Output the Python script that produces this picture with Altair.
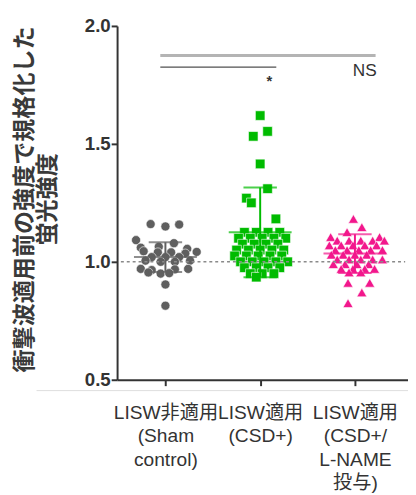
import json
import altair as alt
import pandas as pd

# ---------------- data ----------------
categories = [1, 2, 3]
group_names = ["Sham", "CSD+", "CSD+/L-NAME"]
cat_labels = [
    ["LISW非適用", "(Sham", "control)"],
    ["LISW適用", "(CSD+)"],
    ["LISW適用", "(CSD+/", "L-NAME", "投与)"],
]
y_title = ["衝撃波適用前の強度で規格化した", "蛍光強度"]
y_ticks = [0.5, 1.0, 1.5, 2.0]

# group 1: Sham (circles) — value and horizontal jitter (category units)
sham_values = [1.16, 1.15, 1.158, 1.092, 1.079, 1.064, 1.06, 1.055,
               1.045, 1.04, 1.04, 1.035, 1.042, 1.02, 1.02, 1.02,
               1.005, 1.0, 1.0, 1.005, 0.97, 0.965, 0.968, 0.97,
               0.955, 0.95, 0.952, 0.904, 0.814]
sham_jitter = [-0.156, 0.0, 0.145, -0.31, 0.09, -0.07, -0.26, 0.23,
               -0.23, -0.08, 0.06, 0.21, 0.33, -0.145, 0.0, 0.145,
               -0.21, -0.05, 0.10, 0.26, -0.26, -0.145, 0.10, 0.24,
               -0.18, -0.05, 0.04, 0.0, 0.0]

# group 2: CSD+ (squares)
csd_values = [1.62, 1.553, 1.532, 1.415, 1.31, 1.27, 1.25, 1.182,
              1.125, 1.125, 1.125, 1.125,
              1.10, 1.10, 1.10, 1.10, 1.10,
              1.075, 1.075, 1.075, 1.075,
              1.05, 1.05, 1.05, 1.05, 1.05,
              1.025, 1.025, 1.025, 1.025, 1.025,
              1.0, 1.0, 1.0, 1.0, 1.0,
              0.975, 0.975, 0.975, 0.975,
              0.95, 0.95, 0.95, 0.935]
csd_jitter = [0.0, 0.078, -0.073, 0.0, 0.078, -0.145, -0.093, 0.166,
              -0.166, -0.041, 0.083, 0.207,
              -0.228, -0.104, 0.021, 0.145, 0.27,
              -0.187, -0.062, 0.062, 0.187,
              -0.249, -0.124, 0.0, 0.124, 0.249,
              -0.27, -0.145, -0.021, 0.104, 0.228,
              -0.207, -0.083, 0.041, 0.166, 0.29,
              -0.166, -0.041, 0.083, 0.207,
              -0.104, 0.021, 0.145, -0.041]

# group 3: CSD+/L-NAME (triangles)
lname_values = [1.182, 1.147, 1.126, 1.105, 1.105,
                1.09, 1.09, 1.09, 1.09, 1.09,
                1.07, 1.07, 1.07, 1.07, 1.07,
                1.05, 1.05, 1.05, 1.05, 1.05,
                1.03, 1.03, 1.03, 1.03,
                1.01, 1.01, 1.01, 1.01, 1.01,
                0.99, 0.99, 0.99, 0.99,
                0.97, 0.97, 0.97, 0.97,
                0.955, 0.955, 0.911, 0.911, 0.87, 0.825]
lname_jitter = [-0.016, 0.073, -0.083, -0.256, 0.26,
                -0.187, -0.062, 0.062, 0.187, 0.311,
                -0.27, -0.145, -0.021, 0.104, 0.228,
                -0.207, -0.083, 0.041, 0.166, 0.29,
                -0.249, -0.124, 0.0, 0.124,
                -0.187, -0.062, 0.062, 0.187, 0.29,
                -0.228, -0.104, 0.021, 0.145,
                -0.145, -0.021, 0.104, 0.207,
                -0.062, 0.062, -0.073, 0.156, 0.073, -0.073]

means = [1.02, 1.125, 1.035]
sds = [0.063, 0.19, 0.082]

reference_value = [1.0]
reference_span = [0.53, 3.53]

# significance brackets
bracket_x = [0.946, 0.946]
bracket_x2 = [3.218, 2.17]
bracket_y = [1.875, 1.825]
bracket_kind = ["NS", "star"]
star_text = ["*"]
star_x = [2.098]
star_y = [1.745]
ns_text = ["NS"]
ns_x = [3.104]
ns_y = [1.7875]

baseline_x = [-0.36]
baseline_x2 = [3.56]
baseline_y = [0.454]

# ---------------- styles ----------------
colors = ["#5f5f5f", "#00bb00", "#f2178c"]
shapes = ["circle", "square", "triangle-up"]
sizes = [85, 105, 90]
FONT = "Liberation Sans, Arial, Noto Sans CJK JP"
TXT = "#333333"

# ---------------- tables ----------------
rows = []
for name, cat, vals, jit in [
    (group_names[0], categories[0], sham_values, sham_jitter),
    (group_names[1], categories[1], csd_values, csd_jitter),
    (group_names[2], categories[2], lname_values, lname_jitter),
]:
    for v, j in zip(vals, jit):
        rows.append({"grp": name, "x": cat + j, "y": v})
points = pd.DataFrame(rows)

summary = pd.DataFrame({
    "grp": group_names,
    "x": categories,
    "mean": means,
    "lo": [m - s for m, s in zip(means, sds)],
    "hi": [m + s for m, s in zip(means, sds)],
})

ref = pd.DataFrame({"x": [reference_span[0]], "x2": [reference_span[1]], "y": reference_value})
brackets = pd.DataFrame({"x": bracket_x, "x2": bracket_x2, "y": bracket_y, "kind": bracket_kind})
stars = pd.DataFrame({"x": star_x, "y": star_y, "t": star_text})
ns = pd.DataFrame({"x": ns_x, "y": ns_y, "t": ns_text})
bottom = pd.DataFrame({"x": baseline_x, "x2": baseline_x2, "y": baseline_y})

label_expr = " : ".join(
    f"datum.value == {c} ? {json.dumps(l, ensure_ascii=False)}" for c, l in zip(categories[:-1], cat_labels[:-1])
) + " : " + json.dumps(cat_labels[-1], ensure_ascii=False)

xscale = alt.Scale(domain=[0.49, 3.56], nice=False, zero=False)
yscale = alt.Scale(domain=[0.5, 2.0], nice=False, zero=False)

xaxis = alt.Axis(values=categories, labelExpr=label_expr, title=None, grid=False,
                 tickSize=6, tickWidth=2, tickColor=TXT, domainColor=TXT, domainWidth=2,
                 labelFontSize=19.5, labelLineHeight=24, labelPadding=18, labelColor=TXT,
                 labelFont=FONT, labelFlush=False, labelOverlap=False, labelBaseline="top")
yaxis = alt.Axis(values=y_ticks, format=".1f", title=y_title, grid=False,
                 tickSize=6, tickWidth=2, tickColor=TXT, domainColor=TXT, domainWidth=2,
                 labelFontSize=19, labelFontWeight="bold", labelColor=TXT, labelFont=FONT,
                 labelPadding=1, labelFlush=False,
                 titleFontSize=23.5, titleFontWeight="bold", titleColor="#3a3a3a", titleFont=FONT,
                 titleLineHeight=23.5, titleX=-82, titleY=176)

color_scale = alt.Scale(domain=group_names, range=colors)

pts = alt.Chart(points).mark_point(filled=True, opacity=1, stroke="white", strokeWidth=0.6).encode(
    x=alt.X("x:Q", scale=xscale, axis=xaxis),
    y=alt.Y("y:Q", scale=yscale, axis=yaxis),
    color=alt.Color("grp:N", scale=color_scale, legend=None),
    fill=alt.Fill("grp:N", scale=color_scale, legend=None),
    shape=alt.Shape("grp:N", scale=alt.Scale(domain=group_names, range=shapes), legend=None),
    size=alt.Size("grp:N", scale=alt.Scale(domain=group_names, range=sizes), legend=None),
)

sd_line = alt.Chart(summary).mark_rule(strokeWidth=2).encode(
    x="x:Q", y="lo:Q", y2="hi:Q",
    color=alt.Color("grp:N", scale=color_scale, legend=None),
)
mean_tick = alt.Chart(summary).mark_tick(orient="horizontal", size=64, thickness=2).encode(
    x="x:Q", y="mean:Q", color=alt.Color("grp:N", scale=color_scale, legend=None),
)
cap_hi = alt.Chart(summary).mark_tick(orient="horizontal", size=34, thickness=2).encode(
    x="x:Q", y="hi:Q", color=alt.Color("grp:N", scale=color_scale, legend=None),
)
cap_lo = alt.Chart(summary).mark_tick(orient="horizontal", size=34, thickness=2).encode(
    x="x:Q", y="lo:Q", color=alt.Color("grp:N", scale=color_scale, legend=None),
)

ref_line = alt.Chart(ref).mark_rule(color="#8a8a8a", strokeWidth=1.5, strokeDash=[3, 3]).encode(
    x="x:Q", x2="x2:Q", y="y:Q",
)

br = alt.Chart(brackets).mark_rule().encode(
    x="x:Q", x2="x2:Q", y="y:Q",
    stroke=alt.Stroke("kind:N", scale=alt.Scale(domain=["NS", "star"], range=["#b4b4b4", "#505050"]), legend=None),
    strokeWidth=alt.StrokeWidth("kind:N", scale=alt.Scale(domain=["NS", "star"], range=[3, 1.3]), legend=None),
)

star_txt = alt.Chart(stars).mark_text(font=FONT, color=TXT, align="center", baseline="alphabetic",
                                      fontSize=15, fontWeight="bold").encode(
    x="x:Q", y="y:Q", text="t:N",
)
ns_txt = alt.Chart(ns).mark_text(font=FONT, color=TXT, align="center", baseline="alphabetic",
                                 fontSize=17.5).encode(
    x="x:Q", y="y:Q", text="t:N",
)

bottom_line = alt.Chart(bottom).mark_rule(color="#dddddd", strokeWidth=1).encode(
    x="x:Q", x2="x2:Q", y="y:Q",
)

chart = alt.layer(bottom_line, pts, ref_line, sd_line, mean_tick, cap_hi, cap_lo, br, star_txt, ns_txt).properties(
    width=296, height=360,
    autosize=alt.AutoSizeParams(type="none"),
    padding={"left": 111, "top": 14, "right": 0, "bottom": 113},
    background="white",
).configure_view(stroke=None)

chart.save("out.html", embed_options={"renderer": "svg", "actions": False})
